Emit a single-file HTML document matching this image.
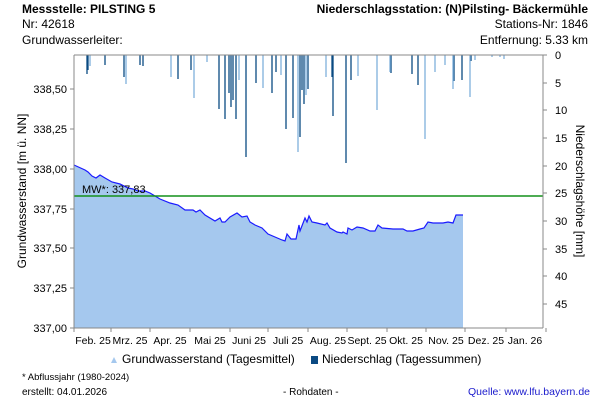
<!DOCTYPE html><html><head><style>body{margin:0;background:#fff}svg{display:block;font-family:"Liberation Sans",sans-serif}</style></head><body>
<svg width="600" height="400" viewBox="0 0 600 400" xmlns="http://www.w3.org/2000/svg">
<rect width="600" height="400" fill="#fff"/>
<g font-size="12" fill="#000">
<text x="22" y="13" font-weight="bold">Messstelle: PILSTING 5</text>
<text x="22" y="28">Nr: 42618</text>
<text x="22" y="44">Grundwasserleiter:</text>
<text x="588" y="13" text-anchor="end" font-weight="bold">Niederschlagsstation: (N)Pilsting- Bäckermühle</text>
<text x="588" y="28" text-anchor="end">Stations-Nr: 1846</text>
<text x="588" y="44" text-anchor="end">Entfernung: 5.33 km</text>
</g>
<path fill="#a5c8ee" stroke="none" d="M74,165 L85,170 88,172 92,176 96,178 100,175 105,178 112,182 120,184 128,188 133,189 138,191 145,191 150,193 155,196 160,199 170,203 178,205 185,210 193,210 196,212 200,210 205,215 215,221 220,218 222,222 225,222 230,217 237,213 242,217 247,216 250,222 255,225 262,228 268,234 275,237 282,240 285,241 287,234 291,239 296,239 299,225 300,231 305,218 307,222 309,216 312,222 317,223 325,225 327,223 330,228 337,232 342,233 343,232 347,234 348,228 352,230 357,227 363,228 370,231 375,231 378,225 382,228 393,229 403,229 407,231 413,231 420,229 424,228 428,222 433,223 443,223 448,222 453,223 456,215 463,215 L463,328 74,328Z"/>
<polyline fill="none" stroke="#1a1aff" stroke-width="1.2" points="74,165 85,170 88,172 92,176 96,178 100,175 105,178 112,182 120,184 128,188 133,189 138,191 145,191 150,193 155,196 160,199 170,203 178,205 185,210 193,210 196,212 200,210 205,215 215,221 220,218 222,222 225,222 230,217 237,213 242,217 247,216 250,222 255,225 262,228 268,234 275,237 282,240 285,241 287,234 291,239 296,239 299,225 300,231 305,218 307,222 309,216 312,222 317,223 325,225 327,223 330,228 337,232 342,233 343,232 347,234 348,228 352,230 357,227 363,228 370,231 375,231 378,225 382,228 393,229 403,229 407,231 413,231 420,229 424,228 428,222 433,223 443,223 448,222 453,223 456,215 463,215"/>
<g stroke-width="1.3">
<g stroke="#0b4a82">
<line x1="87" y1="55" x2="87" y2="74"/><line x1="88" y1="55" x2="88" y2="70"/><line x1="105" y1="55" x2="105" y2="65"/><line x1="124" y1="55" x2="124" y2="77"/><line x1="140" y1="55" x2="140" y2="65"/><line x1="143" y1="55" x2="143" y2="66"/><line x1="178" y1="55" x2="178" y2="79"/><line x1="191" y1="55" x2="191" y2="70"/><line x1="219" y1="55" x2="219" y2="109"/><line x1="225" y1="55" x2="225" y2="119"/><line x1="229" y1="55" x2="229" y2="93"/><line x1="231" y1="55" x2="231" y2="107"/><line x1="233" y1="55" x2="233" y2="100"/><line x1="236" y1="55" x2="236" y2="119"/><line x1="246" y1="55" x2="246" y2="157"/><line x1="256" y1="55" x2="256" y2="83"/><line x1="272" y1="55" x2="272" y2="93"/><line x1="276" y1="55" x2="276" y2="72"/><line x1="286" y1="55" x2="286" y2="129"/><line x1="293" y1="55" x2="293" y2="118"/><line x1="300" y1="55" x2="300" y2="137"/><line x1="302" y1="55" x2="302" y2="90"/><line x1="304" y1="55" x2="304" y2="104"/><line x1="308" y1="55" x2="308" y2="89"/><line x1="332" y1="55" x2="332" y2="77"/><line x1="333" y1="55" x2="333" y2="116"/><line x1="346" y1="55" x2="346" y2="163"/><line x1="351" y1="55" x2="351" y2="80"/><line x1="391" y1="55" x2="391" y2="73"/><line x1="418" y1="55" x2="418" y2="85"/><line x1="454" y1="55" x2="454" y2="81"/><line x1="412" y1="55" x2="412" y2="74"/><line x1="462" y1="55" x2="462" y2="80"/><line x1="471" y1="55" x2="471" y2="61"/>
</g>
<g stroke="#80b1dc">
<line x1="90" y1="55" x2="90" y2="66"/><line x1="126" y1="55" x2="126" y2="84"/><line x1="171" y1="55" x2="171" y2="77"/><line x1="194" y1="55" x2="194" y2="98"/><line x1="207" y1="55" x2="207" y2="62"/><line x1="239" y1="55" x2="239" y2="80"/><line x1="263" y1="55" x2="263" y2="88"/><line x1="281" y1="55" x2="281" y2="75"/><line x1="298" y1="55" x2="298" y2="152"/><line x1="306" y1="55" x2="306" y2="95"/><line x1="326" y1="55" x2="326" y2="77"/><line x1="358" y1="55" x2="358" y2="76"/><line x1="377" y1="55" x2="377" y2="110"/><line x1="390" y1="55" x2="390" y2="72"/><line x1="425" y1="55" x2="425" y2="139"/><line x1="435" y1="55" x2="435" y2="72"/><line x1="445" y1="55" x2="445" y2="65"/><line x1="453" y1="55" x2="453" y2="89"/><line x1="470" y1="55" x2="470" y2="97"/><line x1="475" y1="55" x2="475" y2="60"/><line x1="492" y1="55" x2="492" y2="57"/><line x1="500" y1="55" x2="500" y2="57"/><line x1="504" y1="55" x2="504" y2="59"/>
</g></g>
<line x1="74" y1="196" x2="543" y2="196" stroke="#14901a" stroke-width="1.5"/>
<text x="82" y="193" font-size="11">MW*: 337,83</text>
<g stroke="#888" fill="none"><line x1="74" y1="55" x2="543" y2="55"/><line x1="74" y1="55" x2="74" y2="328"/><line x1="543" y1="55" x2="543" y2="328"/><line x1="74" y1="328" x2="543" y2="328"/>
<path d="M70,89h4M70,129h4M70,169h4M70,209h4M70,248h4M70,288h4M70,328h4M543,55h4M543,83h4M543,110h4M543,138h4M543,166h4M543,193h4M543,221h4M543,249h4M543,276h4M543,304h4M74,328v4M111,328v4M150,328v4M190,328v4M230,328v4M268,328v4M308,328v4M347,328v4M387,328v4M426,328v4M465,328v4M506,328v4M546,328v4"/></g>
<g font-size="11" text-anchor="end"><text x="67" y="93">338,50</text><text x="67" y="133">338,25</text><text x="67" y="173">338,00</text><text x="67" y="213">337,75</text><text x="67" y="252">337,50</text><text x="67" y="292">337,25</text><text x="67" y="332">337,00</text></g>
<g font-size="11"><text x="555" y="59">0</text><text x="555" y="87">5</text><text x="555" y="114">10</text><text x="555" y="142">15</text><text x="555" y="170">20</text><text x="555" y="197">25</text><text x="555" y="225">30</text><text x="555" y="253">35</text><text x="555" y="280">40</text><text x="555" y="308">45</text></g>
<g font-size="10.5" text-anchor="middle"><text x="93" y="344">Feb. 25</text><text x="130" y="344">Mrz. 25</text><text x="170" y="344">Apr. 25</text><text x="210" y="344">Mai 25</text><text x="249" y="344">Juni 25</text><text x="288" y="344">Juli 25</text><text x="328" y="344">Aug. 25</text><text x="367" y="344">Sept. 25</text><text x="406" y="344">Okt. 25</text><text x="446" y="344">Nov. 25</text><text x="486" y="344">Dez. 25</text><text x="525" y="344">Jan. 26</text></g>
<text transform="translate(26,191) rotate(-90)" font-size="12" text-anchor="middle">Grundwasserstand [m ü. NN]</text>
<text transform="translate(576,191) rotate(90)" font-size="12" text-anchor="middle">Niederschlagshöhe [mm]</text>
<path d="M111,363 l3,-6 3,6z" fill="#a5c8ee"/><text x="122" y="363" font-size="12">Grundwasserstand (Tagesmittel)</text>
<rect x="311" y="356" width="7" height="8" fill="#0b4a82"/><text x="322" y="363" font-size="12">Niederschlag (Tagessummen)</text>
<text x="22" y="380" font-size="9.5">* Abflussjahr (1980-2024)</text>
<text x="22" y="395" font-size="10">erstellt:  04.01.2026</text>
<text x="283" y="395" font-size="10">- Rohdaten -</text>
<text x="590" y="395" font-size="10.5" text-anchor="end" fill="#1a1acc">Quelle: www.lfu.bayern.de</text>
</svg></body></html>
